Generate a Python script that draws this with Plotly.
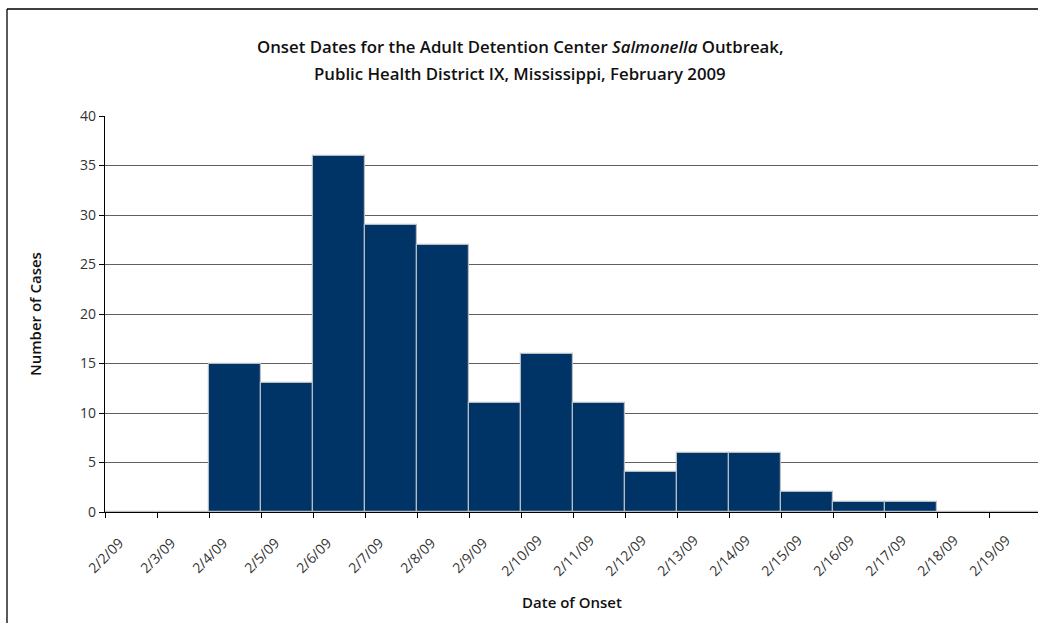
import plotly.graph_objects as go

# onset dates (left edge of each one-day bin) and case counts
dates = ["2/2/09", "2/3/09", "2/4/09", "2/5/09", "2/6/09", "2/7/09", "2/8/09",
         "2/9/09", "2/10/09", "2/11/09", "2/12/09", "2/13/09", "2/14/09",
         "2/15/09", "2/16/09", "2/17/09", "2/18/09", "2/19/09"]
cases = [0, 0, 15, 13, 36, 29, 27, 11, 16, 11, 4, 6, 6, 2, 1, 1, 0, 0]
y_ticks = [0, 5, 10, 15, 20, 25, 30, 35, 40]

W, H = 1038, 623
ML, MR, MT, MB = 105, 0, 116, 111
pw, ph = W - ML - MR, H - MT - MB

positions = list(range(len(dates)))
centers = [p + 0.5 for p in positions]


def px_to_paper_x(px):
    return (px - ML) / pw


def px_to_paper_y(py):
    return (H - MB - py) / ph


fig = go.Figure()
fig.add_trace(go.Bar(
    x=centers,
    y=cases,
    width=1.0,
    marker=dict(color="#003366", line=dict(color="#b8bcc4", width=1.2)),
    showlegend=False,
    hoverinfo="y",
))

# outer chart frame (only left and top edges are visible, rest is cropped)
frame = dict(type="line", xref="paper", yref="paper",
             line=dict(color="black", width=1.3))
fig.add_shape(**frame, x0=px_to_paper_x(7), x1=px_to_paper_x(7),
              y0=px_to_paper_y(9), y1=px_to_paper_y(H + 5))
fig.add_shape(**frame, x0=px_to_paper_x(7), x1=px_to_paper_x(W + 5),
              y0=px_to_paper_y(9), y1=px_to_paper_y(9))

tick_font = dict(family="Open Sans", size=14, color="#333333")
label_font = dict(family="Open Sans", size=15, color="#111111", weight=600)
title_font = dict(family="Open Sans", size=16.8, color="#111111", weight=600)

# date labels are centred under their tick, rotated 45 degrees (Excel style)
for p, d in zip(positions, dates):
    fig.add_annotation(x=p, xref="x", y=px_to_paper_y(555), yref="paper",
                       text=d, textangle=-45, showarrow=False,
                       xanchor="center", yanchor="middle", font=tick_font)

fig.add_annotation(x=px_to_paper_x(520), xref="paper",
                   y=px_to_paper_y(47), yref="paper",
                   text="Onset Dates for the Adult Detention Center "
                        "<i>Salmonella</i> Outbreak,",
                   showarrow=False, xanchor="center", yanchor="middle",
                   font=title_font)
fig.add_annotation(x=px_to_paper_x(520), xref="paper",
                   y=px_to_paper_y(73), yref="paper",
                   text="Public Health District IX, Mississippi, February 2009",
                   showarrow=False, xanchor="center", yanchor="middle",
                   font=title_font)
fig.add_annotation(x=px_to_paper_x(572), xref="paper",
                   y=px_to_paper_y(602), yref="paper",
                   text="Date of Onset", showarrow=False,
                   xanchor="center", yanchor="middle", font=label_font)
fig.add_annotation(x=px_to_paper_x(35), xref="paper",
                   y=px_to_paper_y(314), yref="paper",
                   text="Number of Cases", textangle=-90, showarrow=False,
                   xanchor="center", yanchor="middle", font=label_font)

fig.update_layout(
    width=W, height=H,
    margin=dict(l=ML, r=MR, t=MT, b=MB),
    paper_bgcolor="white",
    plot_bgcolor="white",
    bargap=0,
)

fig.update_xaxes(
    range=[0, pw / 52.0],
    tickmode="array",
    tickvals=positions,
    showticklabels=False,
    ticks="outside", ticklen=5, tickcolor="black",
    showline=True, linecolor="black", linewidth=1.3,
    showgrid=False, zeroline=False,
)
fig.update_yaxes(
    range=[0, 40],
    tickmode="array",
    tickvals=y_ticks,
    ticks="outside", ticklen=5, tickcolor="black",
    tickfont=tick_font,
    showline=True, linecolor="black", linewidth=1.3,
    showgrid=True, gridcolor="#606060", gridwidth=1.4,
    zeroline=False,
)

fig.write_html("out.html", config={"displayModeBar": False},
               post_script="document.body.style.margin='0';")
